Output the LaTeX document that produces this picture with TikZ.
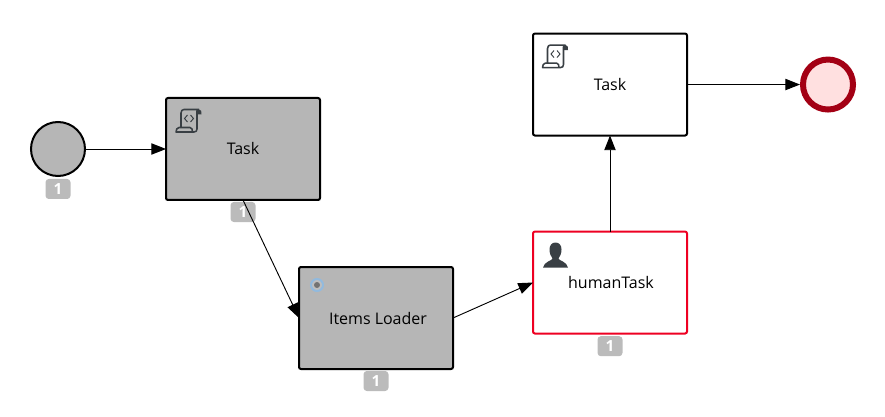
\documentclass[tikz,border=0pt]{standalone}
\usepackage{fontspec}
\setmainfont{Open Sans}
\usepackage{xcolor}
\usetikzlibrary{positioning,arrows.meta}
\definecolor{taskgrey}{RGB}{182,182,182}
\definecolor{badgegrey}{RGB}{187,187,187}
\definecolor{iconink}{RGB}{57,63,68}
\definecolor{alertred}{RGB}{238,0,34}
\definecolor{endred}{RGB}{163,0,20}
\definecolor{endfill}{RGB}{255,224,224}
\definecolor{svcblue}{RGB}{146,186,222}
\begin{document}
\begin{tikzpicture}[
  x=0.75pt, y=-0.75pt,
  font=\fontsize{12}{14}\selectfont,
  box/.style={draw, line width=1.5pt, rounded corners=1.5pt, minimum width=115.5pt, minimum height=76.5pt, outer sep=0pt, align=center, text=black},
  done/.style={box, fill=taskgrey},
  open/.style={box, fill=white},
  alert/.style={box, draw=alertred, fill=white},
  startev/.style={circle, draw, line width=1.5pt, fill=taskgrey, minimum size=40.5pt, outer sep=0.75pt},
  endev/.style={circle, draw=endred, line width=4.5pt, fill=endfill, minimum size=37.5pt, outer sep=2.25pt},
  badge/.style={rounded corners=2.5pt, fill=badgegrey, minimum width=18.75pt, minimum height=15pt, inner sep=0pt, outer sep=0pt, text=white, font=\fontsize{11.5}{13}\selectfont\bfseries},
  arr/.style={-{Triangle[length=11pt,width=8.5pt]}, line width=0.7pt},
  scripticon/.pic={
    \draw[iconink, line width=1.15pt, line join=round]
      (6,19) -- (6,4) .. controls (6,1.5) and (7.5,0.5) .. (9,0.5) -- (24,0.5)
      (22,2) -- (22,20) .. controls (22,22) and (21,23) .. (19,23) -- (1,23)
      .. controls (1,21) and (2,18.5) .. (4,18.5) -- (15,18.5)
      .. controls (17,18.5) and (17.5,21) .. (17.5,23);
    \fill[iconink] (21,0.5) -- (24,0.5) .. controls (26,0.5) and (26.5,2) .. (26.5,5.5) -- (22,5.5) -- (22,3) -- cycle;
    \draw[iconink, line width=0.7pt]
      (12.5,6) -- (9.5,9.5) -- (12.5,13) (15.5,6) -- (18.5,9.5) -- (15.5,13);
  },
  usericon/.pic={
    \fill[iconink] (12.5,0) .. controls (16.5,0) and (18.5,3) .. (18.5,7)
      .. controls (18.5,11) and (17,14) .. (15.5,16) .. controls (15.5,18) and (24,19) .. (25,25)
      -- (0,25) .. controls (1,19) and (9.5,18) .. (9.5,16)
      .. controls (8,14) and (6.5,11) .. (6.5,7) .. controls (6.5,3) and (8.5,0) .. (12.5,0) -- cycle;
  },
  serviceicon/.pic={
    \draw[svcblue, line width=1.5pt, fill=black!25] (0,0) circle (6);
    \fill[black!55] (0,0) circle (3);
  },
  ]
  \useasboundingbox (0,0) rectangle (885,417);
  % lower row, left to right
  \node[startev] (start) at (58,149) {};
  \node[done, right=60pt of start] (taskOne) {Task};
  \node[done, below right=50.25pt and -15.75pt of taskOne] (loader) {\hspace*{3pt}Items Loader};
  \node[alert, right=60pt of loader, yshift=26.6pt] (human) {\hspace*{1.5pt}humanTask};
  % upper row
  \node[open, above=72pt of human] (taskTwo) {Task};
  \node[endev, right=84.75pt of taskTwo] (finish) {};
  % count badges
  \node[badge, below=1.5pt of start] (startBadge) {1};
  \node[badge, below=1.5pt of taskOne] (taskBadge) {1};
  \node[badge, below=1.5pt of loader] (loaderBadge) {1};
  \node[badge, below=2pt of human] (humanBadge) {1};
  % task type icons
  \pic[shift={(9,11)}] at (taskOne.north west) {scripticon};
  \pic[shift={(8.5,11)}] at (taskTwo.north west) {scripticon};
  \pic[shift={(10,11)}] at (human.north west) {usericon};
  \pic[shift={(18,18)}] at (loader.north west) {serviceicon};
  % flows
  \draw[arr] (start) -- (taskOne);
  \draw[arr] (taskOne.south) -- (loader.west);
  \draw[arr] (loader.east) -- (human.west);
  \draw[arr] (human) -- (taskTwo);
  \draw[arr] (taskTwo) -- (finish);
\end{tikzpicture}
\end{document}
